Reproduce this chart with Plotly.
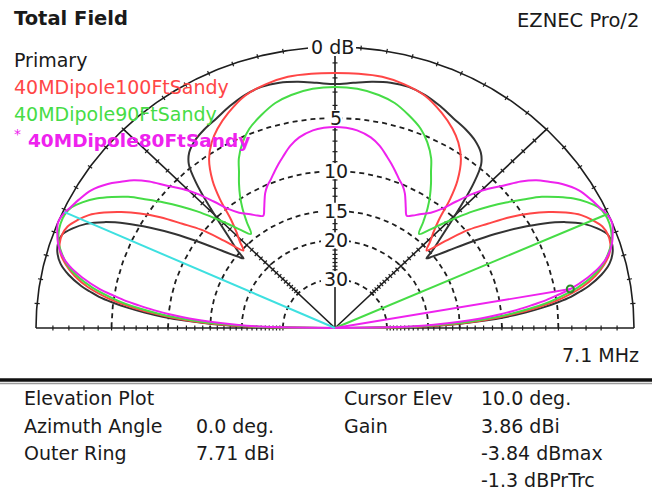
import math
import plotly.graph_objects as go

# ---------------------------------------------------------------- data
OUTER_RING_DBI = 7.71          # gain at the outer ring
RING_DB = [5, 10, 15, 20, 30]  # dashed rings, dB below outer ring
RING_LABELS = ["5", "10", "15", "20", "30"]

CURSOR_EL = 10.0               # cursor elevation, deg
CURSOR_GAIN_DBI = 3.86         # selected trace gain at cursor

# elevation (deg, 0-90) and gain relative to the outer ring (dB);
# broadside patterns are symmetric about the zenith
black_el = [0, 1, 2, 3, 4, 5, 6, 7, 8, 9, 10, 12, 14, 16, 18, 20, 22, 24, 26, 28, 30,
            32, 34, 36, 38, 39, 40, 42, 44, 46, 48, 50, 52, 55, 58, 62, 66, 70, 74,
            78, 82, 86, 90]
black_db = [-99, -21, -15.2, -11.8, -9.4, -7.6, -6.1, -4.9, -3.9, -3.2, -2.55, -1.6,
            -0.95, -0.6, -0.45, -0.5, -0.95, -1.6, -2.6, -4.0, -5.8, -7.9, -10.4,
            -13.0, -15.2, -16.0, -14.8, -12.9, -10.8, -8.5, -6.3, -4.7, -4.0, -3.5,
            -3.2, -2.9, -2.5, -2.15, -1.95, -1.95, -2.1, -2.3, -2.43]

red_el = [0, 1, 2, 3, 4, 5, 6, 7, 8, 10, 12, 14, 16, 18, 20, 22, 24, 26, 28, 30, 32,
          34, 36, 38, 40, 42, 44, 46, 48, 50, 52, 55, 58, 61, 65, 70, 75, 80, 85, 90]
red_db = [-99, -22, -16, -12.5, -10.2, -8.3, -6.8, -5.5, -4.5, -3.0, -2.0, -1.3, -0.8,
          -0.55, -0.5, -0.62, -1.0, -1.5, -2.3, -3.3, -4.5, -6.0, -7.9, -9.7, -12.5,
          -15.2, -14.0, -12.8, -11.2, -8.8, -7.0, -5.3, -4.3, -3.6, -2.9, -2.2,
          -1.85, -1.66, -1.65, -1.67]

green_el = [0, 1, 2, 3, 4, 5, 6, 7, 8, 10, 12, 14, 16, 18, 20, 22, 24, 26, 28, 30, 32,
            34, 36, 38, 40, 42, 44, 46, 48, 50, 52, 54, 56, 58, 60, 62, 65, 68, 72,
            76, 80, 85, 90]
green_db = [-99, -23, -17, -13.3, -10.8, -8.9, -7.3, -6.0, -5.0, -3.35, -2.2, -1.4,
            -0.9, -0.5, -0.28, -0.17, -0.17, -0.35, -0.8, -1.4, -2.2, -3.1, -4.3,
            -5.5, -6.8, -8.2, -9.8, -11.4, -13.0, -14.2, -12.6, -11.0, -9.7, -8.6,
            -7.6, -6.5, -5.4, -4.6, -3.9, -3.3, -2.95, -2.7, -2.63]

mag_el = [0, 1, 2, 3, 4, 5, 6, 7, 8, 9, 10, 12, 14, 16, 18, 20, 22, 24, 26, 28, 31,
          34, 36, 38, 40, 42, 44, 46, 48, 50, 52, 55, 57, 59, 61, 62, 64, 66, 68, 70,
          72, 74, 77, 80, 84, 87, 90]
mag_db = [-99, -25, -19, -15, -12.3, -10.2, -8.5, -7.1, -5.8, -4.8, -3.85, -2.5, -1.5,
          -0.85, -0.45, -0.2, -0.01, -0.08, -0.3, -0.5, -0.85, -1.5, -2.1, -2.7, -3.6,
          -4.8, -5.8, -7.0, -8.6, -10.2, -11.2, -12.1, -12.7, -13.1, -12.3, -11.8,
          -10.8, -10.1, -9.6, -9.0, -8.4, -7.84, -7.0, -6.4, -5.95, -5.8, -5.75]

# reference rays: (elevation deg, dB relative to outer ring)
green_ray = (24.0, 0.0)
cyan_ray = (155.5, -0.1)

# ---------------------------------------------------------------- geometry
W, H = 652, 492
CX, CY = 335.0, 328.0      # pattern origin, px
RX, RY = 299.0, 281.0      # outer ring semi-axes, px

C_GRID = "#1e1e1e"
C_BLACK = "#333333"
C_RED = "#ff4646"
C_GREEN = "#46dc46"
C_MAG = "#ee22ee"
C_CYAN = "#3ee0e0"
FONT = "DejaVu Sans"


def ring_r(db):
    """ARRL log scale: radius shrinks by 0.89 per 2 dB."""
    return 0.89 ** (-db / 2.0)


def to_xy(el, r):
    a = math.radians(el)
    return r * math.cos(a), r * math.sin(a)


def px_x(px):
    return (px - CX) / RX


def px_y(py):
    return (CY - py) / RY


def full_pattern(el, db):
    els = list(el) + [180 - e for e in reversed(el[:-1])]
    dbs = list(db) + list(reversed(db[:-1]))
    xs, ys = [], []
    for e, d in zip(els, dbs):
        x, y = to_xy(e, ring_r(d))
        xs.append(x)
        ys.append(y)
    return xs, ys


fig = go.Figure()


def add_line(xs, ys, color, width, dash=None, shape="linear"):
    fig.add_trace(go.Scatter(x=xs, y=ys, mode="lines", hoverinfo="skip",
                             line=dict(color=color, width=width, dash=dash, shape=shape)))


# dashed rings
for d in RING_DB:
    r = ring_r(-d)
    pts = [to_xy(a, r) for a in range(0, 181)]
    add_line([p[0] for p in pts], [p[1] for p in pts], C_GRID, 1.8, dash="5px,4px")

# outer ring and baseline
pts = [to_xy(a * 0.5, 1.0) for a in range(0, 361)]
add_line([p[0] for p in pts], [p[1] for p in pts], C_GRID, 1.6)
add_line([-1, 1], [0, 0], C_GRID, 1.6)

# radial lines at 45, 90, 135 deg
for ang in (45, 90, 135):
    x, y = to_xy(ang, 1.0)
    add_line([0, x], [0, y], C_GRID, 1.6)

# 1 dB ticks along the radial lines, 5 deg ticks on the outer ring
tx, ty = [], []
L = 2.5
for ang in (0, 45, 90, 135, 180):
    ux, uy = math.cos(math.radians(ang)) * RX, math.sin(math.radians(ang)) * RY
    n = math.hypot(ux, uy)
    px_, py_ = -uy / n, ux / n
    for d in range(1, 31):
        x, y = to_xy(ang, ring_r(-d))
        tx += [x - px_ * L / RX, x + px_ * L / RX, None]
        ty += [y - py_ * L / RY, y + py_ * L / RY, None]
for ang in range(5, 180, 5):
    x0, y0 = to_xy(ang, 1.0 - 2.5 / 290)
    x1, y1 = to_xy(ang, 1.0 + 2.5 / 290)
    tx += [x0, x1, None]
    ty += [y0, y1, None]
add_line(tx, ty, C_GRID, 1.2)

# white backing behind scale labels
def label_box(xc, yc, half_w, half_h):
    x0, x1 = xc - half_w / RX, xc + half_w / RX
    y0, y1 = yc - half_h / RY, yc + half_h / RY
    fig.add_trace(go.Scatter(x=[x0, x1, x1, x0, x0], y=[y0, y0, y1, y1, y0],
                             mode="lines", fill="toself", fillcolor="white",
                             line=dict(width=0, color="white"), hoverinfo="skip"))


label_box(px_x(332), 1.0, 24, 9)
for d, t in zip(RING_DB, RING_LABELS):
    label_box(0, ring_r(-d), 6.5 * len(t) + 1, 8)

# patterns
for el, db, col in ((black_el, black_db, C_BLACK), (red_el, red_db, C_RED),
                    (green_el, green_db, C_GREEN), (mag_el, mag_db, C_MAG)):
    xs, ys = full_pattern(el, db)
    add_line(xs, ys, col, 2.0, shape="spline")

# rays and cursor
for (el, d), col in ((green_ray, C_GREEN), (cyan_ray, C_CYAN)):
    x, y = to_xy(el, ring_r(d))
    add_line([0, x], [0, y], col, 2.0)
cx_, cy_ = to_xy(CURSOR_EL, ring_r(CURSOR_GAIN_DBI - OUTER_RING_DBI))
add_line([0, cx_], [0, cy_], C_MAG, 1.8)
fig.add_trace(go.Scatter(x=[cx_], y=[cy_], mode="markers", hoverinfo="skip",
                         marker=dict(symbol="circle-open", size=7, color="#2a8a2a",
                                     line=dict(width=2))))

# ---------------------------------------------------------------- text
ann = []


def text(px, py, s, color="#1a1a1a", size=19, anchor="left", bold=False):
    ann.append(dict(x=px_x(px), y=px_y(py), xref="x", yref="y", text=f"<b>{s}</b>" if bold else s,
                    showarrow=False, xanchor=anchor, yanchor="middle",
                    font=dict(family=FONT, size=size, color=color)))


text(12, 18, "Total Field", bold=True, size=19.5)
text(641, 20, "EZNEC Pro/2", anchor="right", size=19.5)
text(12, 60, "Primary")
text(12, 87, "40MDipole100FtSandy", color=C_RED)
text(12, 114, "40MDipole90FtSandy", color=C_GREEN)
text(12, 134, "*", color=C_MAG, size=14)
text(26, 140, "40MDipole80FtSandy", color=C_MAG, bold=True, size=18.5)
text(332, 47, "0 dB", anchor="center")
for d, t in zip(RING_DB, RING_LABELS):
    ann.append(dict(x=0.004, y=ring_r(-d), xref="x", yref="y", text=t, showarrow=False,
                    xanchor="center", yanchor="middle",
                    font=dict(family=FONT, size=19, color="#1a1a1a")))
text(641, 355, "7.1 MHz", anchor="right")

text(22, 398, "Elevation Plot")
text(22, 426, "Azimuth Angle")
text(22, 453, "Outer Ring")
text(194, 426, "0.0 deg.")
text(194, 453, f"{OUTER_RING_DBI:.2f} dBi")
text(342, 398, "Cursor Elev")
text(342, 426, "Gain")
text(479, 398, f"{CURSOR_EL:.1f} deg.")
text(479, 426, f"{CURSOR_GAIN_DBI:.2f} dBi")
text(479, 453, "-3.84 dBmax")
text(479, 480, "-1.3 dBPrTrc")

shapes = [
    dict(type="line", xref="paper", yref="paper", x0=0, x1=1,
         y0=1 - 380 / H, y1=1 - 380 / H, line=dict(color="#111111", width=3.5)),
    dict(type="line", xref="paper", yref="paper", x0=0, x1=1,
         y0=1 - 383.5 / H, y1=1 - 383.5 / H, line=dict(color="#9a9a9a", width=1.5)),
]

fig.update_layout(
    width=W, height=H, autosize=False,
    margin=dict(l=0, r=0, t=0, b=0, pad=0),
    paper_bgcolor="white", plot_bgcolor="white",
    showlegend=False,
    xaxis=dict(range=[-CX / RX, (W - CX) / RX], visible=False, fixedrange=True),
    yaxis=dict(range=[-(H - CY) / RY, CY / RY], visible=False, fixedrange=True),
    annotations=ann, shapes=shapes,
)

fig.write_html("out.html")
